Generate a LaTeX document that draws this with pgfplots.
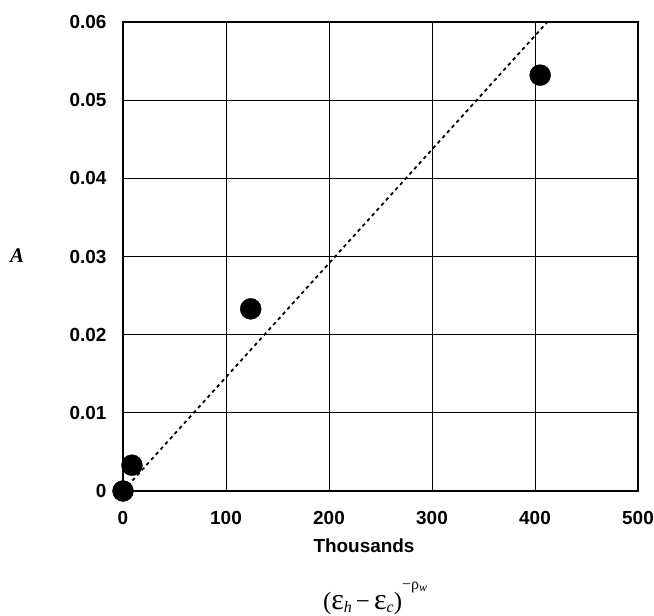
\documentclass[border=0pt]{standalone}
\usepackage{fontspec}
\setmainfont{Liberation Serif}
\newfontfamily\tickfont{Liberation Sans}
\usepackage{pgfplots}
\pgfplotsset{compat=1.18}

\newcommand{\tfont}{\tickfont\bfseries\fontsize{19}{19}\selectfont}
\newcommand{\eps}{{\fontsize{30}{30}\selectfont ε}}

\begin{document}
\begin{tikzpicture}
\useasboundingbox (-123bp,-125bp) rectangle (531bp,491bp);
\begin{axis}[
  at={(0,0)}, anchor=south west,
  scale only axis,
  width=515bp, height=469bp,
  xmin=0, xmax=500, ymin=0, ymax=0.06,
  xtick={0,100,200,300,400,500},
  xticklabels={0,100,200,300,400,500},
  ytick={0,0.01,0.02,0.03,0.04,0.05,0.06},
  yticklabels={0,0.01,0.02,0.03,0.04,0.05,0.06},
  scaled y ticks=false,
  major tick length=0pt,
  grid=major,
  grid style={black, line width=0.9bp},
  axis line style={black, line width=2.4bp},
  xticklabel style={font=\tfont, anchor=base, yshift=-33bp},
  yticklabel style={font=\tfont, anchor=east, xshift=-13bp},
  clip=false,
]
% trend line
\addplot[black, line width=1.8bp, dash pattern=on 3.5bp off 3.5bp] coordinates {
  (0,0) (412,0.06)
};
% measured points
\addplot[only marks, mark=*, mark size=10.5bp, black, mark options={fill=black}] coordinates {
  (0,0) (8.7,0.0033) (124,0.0233) (405,0.0532)
};
\end{axis}
\node at (-106bp,235bp) {\bfseries\itshape\fontsize{21}{21}\selectfont A};
\node at (241bp,-55bp) {\tfont Thousands};
\node[anchor=base] at (252bp,-118bp) {\fontsize{25}{25}\selectfont
  (\eps\raisebox{-0.3ex}{\fontsize{16}{16}\selectfont\itshape h}\,−\,\eps\raisebox{-0.3ex}{\fontsize{16}{16}\selectfont\itshape c})\raisebox{0.8em}{\fontsize{16}{16}\selectfont −ρ\raisebox{-0.35ex}{\fontsize{12}{12}\selectfont\itshape w}}};
\end{tikzpicture}
\end{document}
